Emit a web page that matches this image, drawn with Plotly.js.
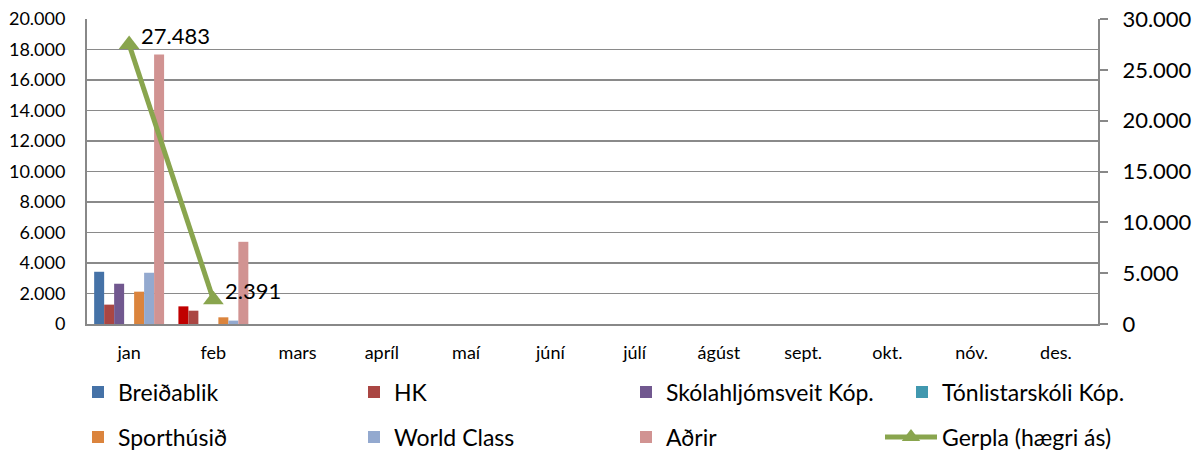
<!DOCTYPE html>
<html>
<head>
<meta charset="utf-8">
<script src="https://cdn.plot.ly/plotly-3.0.1.min.js"></script>
<style>html,body{margin:0;padding:0;background:#fff;}#chart{width:1198px;height:451px;}</style>
</head>
<body>
<div id="chart"></div>
<script>
const months = ['jan','feb','mars','apríl','maí','júní','júlí','ágúst','sept.','okt.','nóv.','des.'];
const breidablik = [3425, 1157, null, null, null, null, null, null, null, null, null, null];
const hk = [1270, 873, null, null, null, null, null, null, null, null, null, null];
const skolahljomsveit = [2640, null, null, null, null, null, null, null, null, null, null, null];
const tonlistarskoli = [null, null, null, null, null, null, null, null, null, null, null, null];
const sporthusid = [2120, 438, null, null, null, null, null, null, null, null, null, null];
const worldClass = [3360, 222, null, null, null, null, null, null, null, null, null, null];
const adrir = [17670, 5390, null, null, null, null, null, null, null, null, null, null];
const gerpla = [27483, 2391, null, null, null, null, null, null, null, null, null, null];

const FONT = 'Lato, "Liberation Sans", sans-serif';
const breidablikColors = months.map((m, i) => i === 1 ? '#C00000' : '#4572A7');

function fmt(n) {
  return String(Math.round(n)).replace(/\B(?=(\d{3})+(?!\d))/g, '.');
}

const barSeries = [
  {name: 'Breiðablik', y: breidablik, color: breidablikColors, legend: 'legend'},
  {name: 'HK', y: hk, color: '#AA4643', legend: 'legend2'},
  {name: 'Skólahljómsveit Kóp.', y: skolahljomsveit, color: '#71588F', legend: 'legend3'},
  {name: 'Tónlistarskóli Kóp.', y: tonlistarskoli, color: '#4198AF', legend: 'legend4'},
  {name: 'Sporthúsið', y: sporthusid, color: '#DB843D', legend: 'legend5'},
  {name: 'World Class', y: worldClass, color: '#93A9CF', legend: 'legend6'},
  {name: 'Aðrir', y: adrir, color: '#D19392', legend: 'legend7'}
];

const traces = barSeries.map(s => ({
  type: 'bar', name: s.name, x: months, y: s.y, showlegend: true,
  marker: {color: s.color}, legend: s.legend, hoverinfo: 'none'
}));

traces.push({
  type: 'scatter', mode: 'lines+markers', name: 'Gerpla (hægri ás)', showlegend: true,
  x: months, y: gerpla, yaxis: 'y2', legend: 'legend8',
  line: {color: '#89A54E', width: 5},
  marker: {symbol: 'triangle-up', size: 18, color: '#89A54E'},
  connectgaps: false, hoverinfo: 'none', cliponaxis: false
});

const annotations = gerpla.map((v, i) => v == null ? null : ({
  x: months[i], y: v, xref: 'x', yref: 'y2', text: fmt(v),
  showarrow: false, xanchor: 'left', yanchor: 'middle', xshift: 10, yshift: 9,
  font: {family: FONT, size: 22, color: '#000'}
})).filter(a => a);

const plotL = 87, plotW = 1011, plotT = 19, plotH = 305;
function lx(px) { return (px - plotL) / plotW; }
function ly(py) { return (plotT + plotH - py) / plotH; }
const colText = [120, 396, 668, 944];
const rowY = [392, 437];
function legendAt(col, row, itemwidth) {
  const iw = itemwidth || 30;
  return {
    x: lx(colText[col] - 42 - (iw - 30)), y: ly(rowY[row]), xanchor: 'left', yanchor: 'middle',
    bgcolor: 'rgba(0,0,0,0)', font: {family: FONT, size: 23, color: '#000'},
    orientation: 'v', visible: true, itemwidth: iw
  };
}

const layout = {
  width: 1198, height: 451,
  margin: {l: 87, r: 100, t: 19, b: 127, autoexpand: false},
  paper_bgcolor: '#fff', plot_bgcolor: '#fff',
  separators: ',.',
  showlegend: true,
  font: {family: FONT, color: '#000'},
  barmode: 'group', bargap: 0.17, bargroupgap: 0,
  xaxis: {
    type: 'category', range: [-0.5, 11.5], autorange: false,
    showline: true, linecolor: '#888', linewidth: 2,
    ticks: '', showgrid: false, tickfont: {family: FONT, size: 18, color: '#000'},
    ticklabelstandoff: 11, fixedrange: true
  },
  yaxis: {
    range: [0, 20000], autorange: false, dtick: 2000, tick0: 0, tickformat: ',d',
    showgrid: true, gridcolor: '#8a8a8a', gridwidth: 1.5,
    showline: true, linecolor: '#888', linewidth: 2, zeroline: false,
    ticks: '', tickfont: {family: FONT, size: 18, color: '#000'}, ticklabelstandoff: 16
  },
  yaxis2: {
    overlaying: 'y', side: 'right', range: [0, 30000], autorange: false,
    dtick: 5000, tick0: 0, tickformat: ',d',
    showgrid: false, showline: true, linecolor: '#888', linewidth: 2, zeroline: false,
    ticks: 'outside', ticklen: 8, tickwidth: 2, tickcolor: '#888',
    tickfont: {family: FONT, size: 22, color: '#000'}, ticklabelstandoff: 10
  },
  legend: legendAt(0, 0),
  legend2: legendAt(1, 0),
  legend3: legendAt(2, 0),
  legend4: legendAt(3, 0),
  legend5: legendAt(0, 1),
  legend6: legendAt(1, 1),
  legend7: legendAt(2, 1),
  legend8: legendAt(3, 1, 52),
  annotations: annotations
};

Plotly.newPlot('chart', traces, layout, {staticPlot: true, displayModeBar: false});
</script>
</body>
</html>
